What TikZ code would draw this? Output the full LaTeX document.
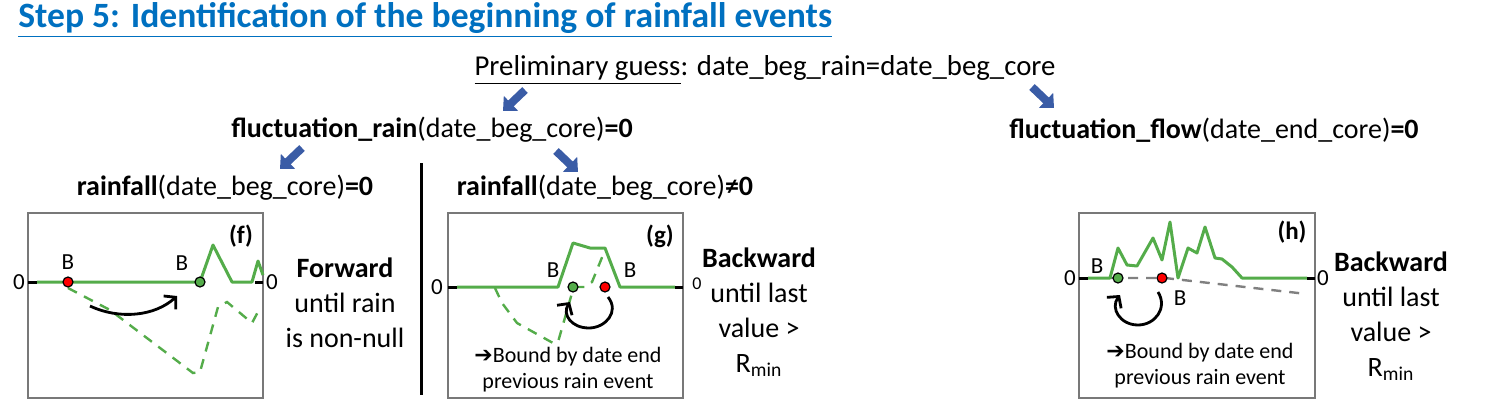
\documentclass[tikz,border=0pt]{standalone}
\usepackage{fontspec}
\setmainfont{Carlito}
\newfontfamily\symfont{DejaVu Sans}
\usetikzlibrary{arrows.meta,positioning}
\definecolor{titleblue}{RGB}{0,112,192}
\definecolor{arrowblue}{RGB}{58,92,166}
\definecolor{raingreen}{RGB}{84,172,74}
\definecolor{boxgray}{RGB}{120,120,120}
\definecolor{flowgray}{RGB}{128,128,128}

\begin{document}
\begin{tikzpicture}[
  x=0.5pt, y=-0.5pt,
  txt/.style={inner sep=0pt, font=\fontsize{14}{17}\selectfont},
  lbl/.style={inner sep=0pt, font=\fontsize{11.5}{13}\selectfont},
  tag/.style={inner sep=0pt, font=\fontsize{12.5}{14}\selectfont\bfseries},
  side/.style={inner sep=0pt, align=center, font=\fontsize{14}{17.5}\selectfont},
  note/.style={inner sep=0pt, align=center, font=\fontsize{11}{13}\selectfont},
  panel/.style={draw=boxgray, line width=0.8pt},
  series/.style={draw=raingreen, line width=1.5pt, line join=round},
  guess/.style={draw=raingreen, line width=1.2pt, dash pattern=on 5pt off 4pt},
  flowguess/.style={draw=flowgray, line width=1.2pt, dash pattern=on 5pt off 4pt},
  tick/.style={draw=black, line width=1.5pt},
  dot/.style={circle, draw=black, line width=0.6pt, inner sep=0pt, minimum size=5pt},
  blockarrow/.style={draw=arrowblue, line width=4pt, -{Triangle[length=5.5pt,width=10pt]}},
  turn/.style={draw=black, line width=1.4pt, -{Straight Barb[length=4pt,width=9pt]}}
]
\useasboundingbox (0,0) rectangle (1488,402);

\node[anchor=west, inner sep=0pt, font=\fontsize{17.8}{20}\selectfont\bfseries, text=titleblue] (title) at (18,20) {\underline{Step 5: Identification of the beginning of rainfall events}};

\node[txt, font=\fontsize{14.4}{17}\selectfont] (guess) at (765,70) {\underline{Preliminary guess}: date\_beg\_rain=date\_beg\_core};
\node[txt] (frain) at (432,130) {\textbf{fluctuation\_rain}(date\_beg\_core)\textbf{=0}};
\node[txt] (fflow) at (1214,130) {\textbf{fluctuation\_flow}(date\_end\_core)\textbf{=0}};
\node[txt] (rainzero) at (225,188) {\textbf{rainfall}(date\_beg\_core)\textbf{=0}};
\node[txt] (rainpos) at (605,188) {\textbf{rainfall}(date\_beg\_core)\textbf{≠0}};

\coordinate (a1s) at (525,90);  \coordinate (a1e) at (503,111);
\coordinate (a2s) at (1032,87); \coordinate (a2e) at (1054,108);
\coordinate (a3s) at (302,148); \coordinate (a3e) at (280,169);
\coordinate (a4s) at (556,151); \coordinate (a4e) at (578,172);
\draw[blockarrow] (a1s) -- (a1e);
\draw[blockarrow] (a2s) -- (a2e);
\draw[blockarrow] (a3s) -- (a3e);
\draw[blockarrow] (a4s) -- (a4e);

\draw[line width=1.5pt] (421,163) -- (421,395);

% panel f
\draw[panel] (28,213) rectangle (263,398);
\draw[guess] (68,288) -- (110,310) -- (193,373) -- (200,372) -- (218,307) -- (227,302) -- (252,323) -- (260,308);
\draw[series] (37,282) -- (200,282) -- (213,245) -- (232,282) -- (252,282) -- (258,261) -- (263,275);
\draw[tick] (28,282) -- (37,282);
\draw[tick] (255,282) -- (263,282);
\node[lbl] (fzl) at (19,282) {0};
\node[lbl] (fzr) at (272,282) {0};
\node[dot, fill=red] (fred) at (68,282) {};
\node[dot, fill=raingreen] (fgreen) at (200,282) {};
\node[lbl] (fb1) at (68,262) {B};
\node[lbl] (fb2) at (182,263) {B};
\node[tag] (ftag) at (241,236) {(f)};
\coordinate (fs) at (90,306); \coordinate (fe) at (177,296);
\draw[turn] (fs) .. controls (120,320) and (155,316) .. (fe);
\node[side] (forward) at (345,303) {\textbf{Forward}\\until rain\\is non-null};

% panel g
\draw[panel] (448,213) rectangle (683,398);
\draw[guess] (495,288) -- (502,303) -- (517,323) -- (553,343) -- (558,342) -- (572,293) -- (577,287) -- (585,287) -- (592,282) -- (603,255);
\draw[series] (457,287) -- (558,287) -- (573,243) -- (590,248) -- (605,248) -- (620,287) -- (675,287);
\draw[tick] (448,287) -- (457,287);
\draw[tick] (675,287) -- (683,287);
\node[lbl] (gzl) at (437,287) {0};
\node[inner sep=0pt, font=\fontsize{9}{11}\selectfont] (gzr) at (697,284) {0};
\node[dot, fill=raingreen] (ggreen) at (573,287) {};
\node[dot, fill=red] (gred) at (605,287) {};
\node[lbl] (gb1) at (553,270) {B};
\node[lbl] (gb2) at (630,270) {B};
\node[tag] (gtag) at (660,236) {(g)};
\coordinate (gs) at (608,297); \coordinate (ge) at (570,302);
\draw[turn] (gs) .. controls (620,312) and (605,328) .. (589,328) .. controls (571,328) and (562,314) .. (ge);
\node[note] (gnote) at (568,370) {{\symfont\fontsize{11}{13}\selectfont ➔}Bound by date end\\previous rain event};
\node[side] (gback) at (759,312) {\textbf{Backward}\\until last\\value >\\R\textsubscript{min}};

% panel h
\draw[panel] (1079,213) rectangle (1315,398);
\draw[flowguess] (1110,278) -- (1165,278) -- (1307,294);
\draw[series] (1088,278) -- (1110,278) -- (1118,248) -- (1127,265) -- (1137,266) -- (1153,238) -- (1162,260) -- (1170,222) -- (1178,278) -- (1188,248) -- (1197,253) -- (1205,227) -- (1215,258) -- (1222,259) -- (1232,267) -- (1242,278) -- (1307,278);
\draw[tick] (1079,278) -- (1088,278);
\draw[tick] (1307,278) -- (1315,278);
\node[lbl] (hzl) at (1070,278) {0};
\node[lbl] (hzr) at (1323,278) {0};
\node[dot, fill=raingreen] (hgreen) at (1118,278) {};
\node[dot, fill=red] (hred) at (1162,278) {};
\node[lbl] (hb1) at (1097,266) {B};
\node[lbl] (hb2) at (1180,298) {B};
\node[tag] (htag) at (1292,232) {(h)};
\coordinate (hs) at (1158,292); \coordinate (he) at (1120,295);
\draw[turn] (hs) .. controls (1168,308) and (1155,325) .. (1138,325) .. controls (1120,325) and (1110,308) .. (he);
\node[note] (hnote) at (1200,366) {{\symfont\fontsize{11}{13}\selectfont ➔}Bound by date end\\previous rain event};
\node[side] (hback) at (1391,316) {\textbf{Backward}\\until last\\value >\\R\textsubscript{min}};
\end{tikzpicture}
\end{document}
